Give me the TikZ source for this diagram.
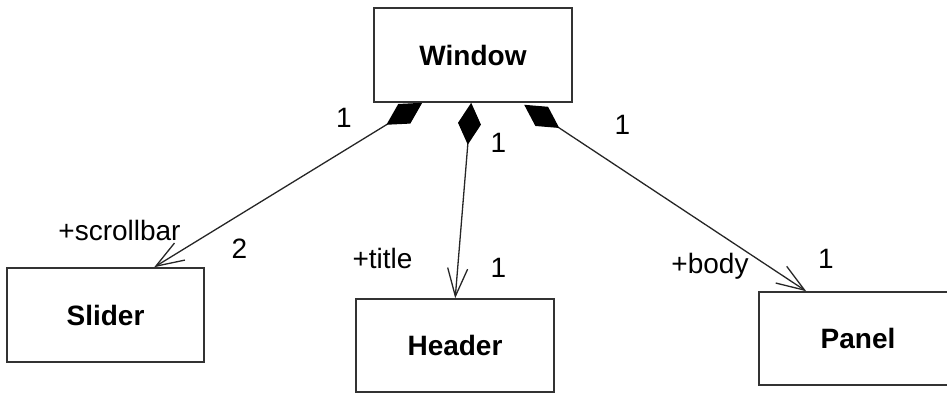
\documentclass[tikz,border=0pt]{standalone}
\usepackage{fontspec}
\setmainfont{Liberation Sans}
\usetikzlibrary{arrows.meta,calc}
\begin{document}
\begin{tikzpicture}[x=1pt,y=-1pt,
  classbox/.style={draw=black!80, line width=1.6pt, fill=white, inner sep=0pt,
    minimum width=198pt, minimum height=94pt,
    font=\bfseries\fontsize{28}{31}\selectfont},
  assoc/.style={draw=black!85, line width=1.3pt,
    {Diamond[length=42pt,width=23pt,color=black,fill=black]}-{Straight Barb[length=28pt,width=20pt]}},
  lbl/.style={anchor=base, inner sep=0pt, font=\fontsize{28}{31}\selectfont}]
\useasboundingbox (0,0) rectangle (947,393);
\clip (0,0) rectangle (947,393);
% classes
\node[classbox] (window) at (473,55) {Window};
\node[classbox, minimum width=197pt] (slider) at (105.5,315) {Slider};
\node[classbox, minimum height=93pt] (header) at (455,345.5) {Header};
\node[classbox, minimum height=93pt] (panel) at (858,338.5) {Panel};
% connector end points
\coordinate (wl) at ($(window.south west)+(49,0)$);
\coordinate (wm) at ($(window.south west)+(98,0)$);
\coordinate (wr) at ($(window.south west)+(151,2)$);
\coordinate (st) at ($(slider.north west)+(148,0)$);
\coordinate (ht) at ($(header.north west)+(100,0)$);
\coordinate (pt) at ($(panel.north west)+(48,0)$);
% connectors
\draw[assoc] (wl) -- (st);
\draw[assoc] (wm) -- (ht);
\draw[assoc] (wr) -- (pt);
% labels
\node[lbl] (m1) at (344,128) {1};
\node[lbl] (m2) at (498.5,152) {1};
\node[lbl] (m3) at (622.5,135) {1};
\node[lbl] (r1) at (119.5,240) {+scrollbar};
\node[lbl] (n1) at (239.5,258) {2};
\node[lbl] (r2) at (382.5,268) {+title};
\node[lbl] (n2) at (498.5,277) {1};
\node[lbl] (r3) at (710,273) {+body};
\node[lbl] (n3) at (826,268) {1};
\end{tikzpicture}
\end{document}
